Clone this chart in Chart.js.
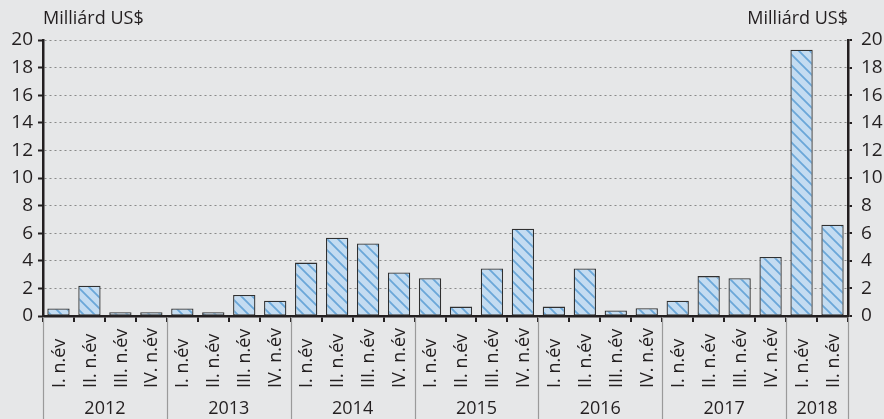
<!DOCTYPE html>
<html>
<head>
<meta charset="utf-8">
<script src="https://cdn.jsdelivr.net/npm/chart.js@4.4.1/dist/chart.umd.min.js"></script>
<style>
  html, body { margin: 0; padding: 0; background: #e6e7e8; }
  #wrap { width: 884px; height: 419px; }
</style>
</head>
<body>
<div id="wrap"><canvas id="chart" width="884" height="419"></canvas></div>
<script>
const quarterLabels = [
  "I. n.év", "II. n.év", "III. n.év", "IV. n.év",
  "I. n.év", "II. n.év", "III. n.év", "IV. n.év",
  "I. n.év", "II. n.év", "III. n.év", "IV. n.év",
  "I. n.év", "II. n.év", "III. n.év", "IV. n.év",
  "I. n.év", "II. n.év", "III. n.év", "IV. n.év",
  "I. n.év", "II. n.év", "III. n.év", "IV. n.év",
  "I. n.év", "II. n.év"
];
const years = ["2012", "2013", "2014", "2015", "2016", "2017", "2018"];
const quartersPerYear = [4, 4, 4, 4, 4, 4, 2];
const values = [
  0.55, 2.2, 0.27, 0.27,
  0.55, 0.27, 1.53, 1.1,
  3.87, 5.67, 5.25, 3.16,
  2.74, 0.68, 3.45, 6.33,
  0.68, 3.45, 0.4, 0.56,
  1.1, 2.89, 2.74, 4.27,
  19.3, 6.62
];
const yUnit = "Milliárd US$";

const FONT = "'Open Sans', 'Noto Sans', sans-serif";
const TEXT = "#231f20";

function makeHatch() {
  const size = 11;
  const c = document.createElement("canvas");
  c.width = size;
  c.height = size;
  const g = c.getContext("2d");
  g.fillStyle = "#c4dcf1";
  g.fillRect(0, 0, size, size);
  g.strokeStyle = "#6aa7d8";
  g.lineWidth = 1.8;
  g.beginPath();
  g.moveTo(-2, -2);
  g.lineTo(size + 2, size + 2);
  g.moveTo(-2, size - 2);
  g.lineTo(2, size + 2);
  g.moveTo(size - 2, -2);
  g.lineTo(size + 2, 2);
  g.stroke();
  return g.createPattern(c, "repeat");
}

const ctx = document.getElementById("chart").getContext("2d");

// titles, rotated quarter labels, year row and separators
const extrasPlugin = {
  id: "extras",
  afterDraw(chart) {
    const { ctx, chartArea, scales } = chart;
    const x = scales.x;
    ctx.save();
    ctx.fillStyle = TEXT;
    ctx.font = "18px " + FONT;
    ctx.textBaseline = "middle";
    ctx.textAlign = "left";
    ctx.fillText(yUnit, chartArea.left, 19);
    ctx.textAlign = "right";
    ctx.fillText(yUnit, chartArea.right, 19);

    // quarter labels, bottom aligned
    ctx.font = "18px " + FONT;
    quarterLabels.forEach((lab, i) => {
      const px = x.getPixelForValue(i);
      ctx.save();
      ctx.translate(px + 1, 388);
      ctx.rotate(-Math.PI / 2);
      ctx.textAlign = "left";
      ctx.textBaseline = "middle";
      ctx.fillText(lab, 0, 0);
      ctx.restore();
    });

    // year groups
    const step = x.getPixelForValue(1) - x.getPixelForValue(0);
    let idx = 0;
    ctx.strokeStyle = "#9a9a9a";
    ctx.lineWidth = 1.2;
    ctx.font = "18px " + FONT;
    ctx.textAlign = "center";
    const edges = [];
    years.forEach((yr, k) => {
      const start = x.getPixelForValue(idx) - step / 2;
      const end = x.getPixelForValue(idx + quartersPerYear[k] - 1) + step / 2;
      edges.push(start);
      if (k === years.length - 1) edges.push(end);
      ctx.fillText(yr, (start + end) / 2, 409);
      idx += quartersPerYear[k];
    });
    edges.forEach((ex) => {
      ctx.beginPath();
      ctx.moveTo(Math.round(ex) + 0.5, chartArea.bottom + 1);
      ctx.lineTo(Math.round(ex) + 0.5, 419);
      ctx.stroke();
    });
    ctx.restore();
  },
};

const yTicks = {
  color: TEXT,
  font: { family: FONT, size: 19 },
  stepSize: 2,
  padding: 5,
};

new Chart(ctx, {
  type: "bar",
  data: {
    labels: quarterLabels,
    datasets: [
      {
        data: values,
        backgroundColor: makeHatch(),
        borderColor: "#303030",
        borderWidth: 1.3,
        borderSkipped: false,
        barPercentage: 0.72,
        categoryPercentage: 1,
      },
    ],
  },
  options: {
    responsive: false,
    animation: false,
    layout: { padding: { top: 40, left: 0, right: 0, bottom: 0 } },
    plugins: {
      legend: { display: false },
      tooltip: { enabled: false },
    },
    scales: {
      x: {
        offset: true,
        ticks: { display: false },
        grid: {
          offset: true,
          drawOnChartArea: false,
          color: "#231f20",
          tickLength: 6,
          lineWidth: 2,
        },
        border: { color: "#231f20", width: 2.5 },
        afterFit(scale) {
          scale.height = 103;
        },
      },
      y: {
        position: "left",
        min: 0,
        max: 20,
        ticks: yTicks,
        grid: {
          color: "#8a8a8a",
          lineWidth: 1,
          tickLength: 5,
          tickColor: "#231f20",
          tickWidth: 2,
        },
        border: { color: "#231f20", width: 2.5, dash: [2, 3] },
        afterFit(scale) {
          scale.width = 43;
        },
      },
      y2: {
        position: "right",
        min: 0,
        max: 20,
        ticks: Object.assign({}, yTicks, { padding: 9 }),
        grid: {
          drawOnChartArea: false,
          tickLength: 4,
          color: "#231f20",
          lineWidth: 2,
        },
        border: { color: "#231f20", width: 2.5 },
        afterFit(scale) {
          scale.width = 36;
        },
      },
    },
  },
  plugins: [extrasPlugin],
});
</script>
</body>
</html>
